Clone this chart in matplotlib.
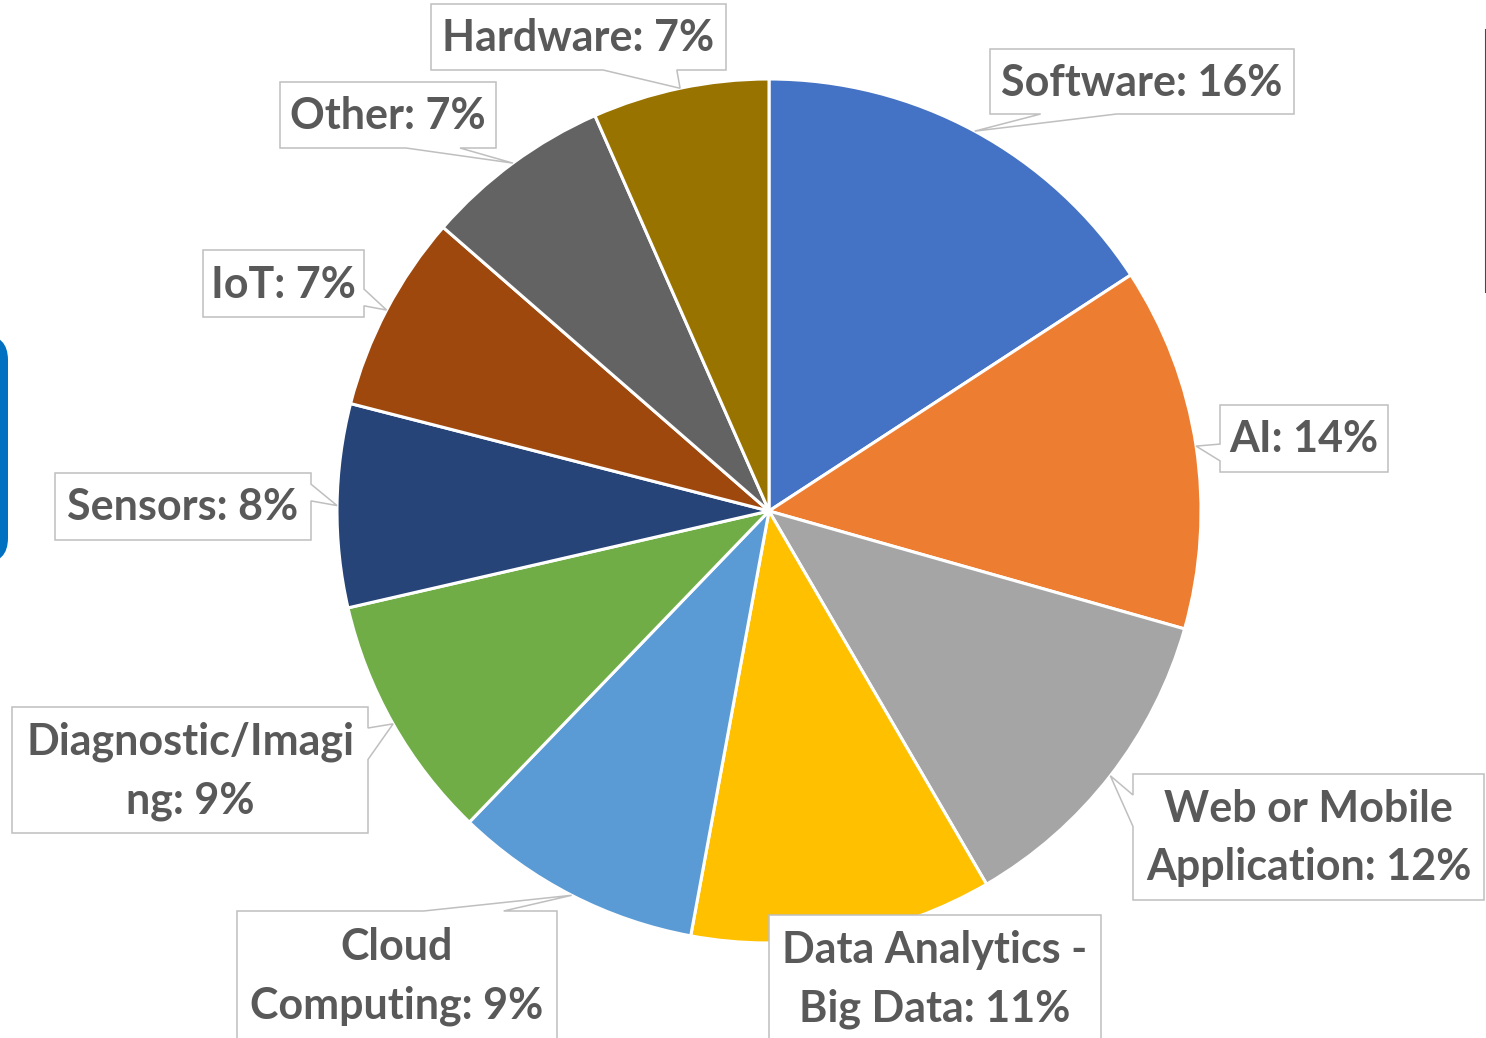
import numpy as np
import matplotlib
matplotlib.use('Agg')
import matplotlib.pyplot as plt
from matplotlib.patches import Polygon, FancyBboxPatch

# slice data (clockwise from 12 o'clock)
categories = ['Software', 'AI', 'Web or Mobile Application', 'Data Analytics - Big Data',
              'Cloud Computing', 'Diagnostic/Imaging', 'Sensors', 'IoT', 'Other', 'Hardware']
values = [15.8, 13.6, 12.2, 11.3, 9.3, 9.2, 7.6, 7.4, 7.0, 6.6]
label_text = ['Software: 16%', 'AI: 14%', 'Web or Mobile\nApplication: 12%',
              'Data Analytics -\nBig Data: 11%', 'Cloud\nComputing: 9%',
              'Diagnostic/Imagi\nng: 9%', 'Sensors: 8%', 'IoT: 7%', 'Other: 7%',
              'Hardware: 7%']
colors = ['#4472C4', '#ED7D31', '#A5A5A5', '#FFC000', '#5B9BD5',
          '#70AD47', '#264478', '#9E480E', '#636363', '#997300']

# label boxes in pixel coords (left, top, right, bottom), y down
boxes = [(990, 49, 1294, 114), (1220, 405, 1388, 472), (1133, 774, 1484, 900),
         (769, 915, 1101, 1042), (237, 911, 557, 1040), (12, 707, 368, 833),
         (55, 473, 311, 540), (203, 250, 364, 317), (280, 82, 496, 148),
         (431, 4, 726, 70)]

W, H = 1486, 1038
cx, cy, R = 769, 511, 432


def Y(y):
    return H - y


def callout(l, t, r, b, ax_, ay_):
    # excel style wedgeRectCallout, pixel coords y down
    w = r - l
    h = b - t
    dxp = ax_ - (l + r) / 2.0
    dyp = ay_ - (t + b) / 2.0
    dz = abs(dyp) - abs(dxp * h / w)
    x1 = l + w * (7 if dxp > 0 else 2) / 12.0
    x2 = l + w * (10 if dxp > 0 else 5) / 12.0
    y1 = t + h * (7 if dyp > 0 else 2) / 12.0
    y2 = t + h * (10 if dyp > 0 else 5) / 12.0
    if dz > 0:
        xl, yl = l, y1
        xr, yr = r, y1
        xt, yt = (x1, t) if dyp > 0 else (ax_, ay_)
        xb, yb = (ax_, ay_) if dyp > 0 else (x1, b)
    else:
        xt, yt = x1, t
        xb, yb = x1, b
        xl, yl = (l, y1) if dxp > 0 else (ax_, ay_)
        xr, yr = (ax_, ay_) if dxp > 0 else (r, y1)
    pts = [(l, t), (x1, t), (xt, yt), (x2, t), (r, t), (r, y1), (xr, yr), (r, y2),
           (r, b), (x2, b), (xb, yb), (x1, b), (l, b), (l, y2), (xl, yl), (l, y1)]
    return [(px, Y(py)) for px, py in pts]


fig = plt.figure(figsize=(W / 100, H / 100), dpi=100)
ax = fig.add_axes([0, 0, 1, 1])

wedges, _ = ax.pie(values, colors=colors, startangle=90, counterclock=False,
                   radius=R, center=(cx, Y(cy)), frame=True,
                   wedgeprops=dict(edgecolor='white', linewidth=2.2))
ax.set_xlim(0, W)
ax.set_ylim(0, H)
ax.set_aspect('equal')
ax.axis('off')

for wd, txt, (l, t, r, b) in zip(wedges, label_text, boxes):
    mid = np.deg2rad((wd.theta1 + wd.theta2) / 2.0)
    ax_ = cx + R * np.cos(mid)
    ay_ = cy - R * np.sin(mid)
    if l < ax_ < r and t < ay_ < b:
        pts = [(l, Y(t)), (r, Y(t)), (r, Y(b)), (l, Y(b))]
    else:
        pts = callout(l, t, r, b, ax_, ay_)
    ax.add_patch(Polygon(pts, closed=True, facecolor='white', edgecolor='#BFBFBF',
                         linewidth=1.1, zorder=3, clip_on=False))
    ax.text((l + r) / 2.0, Y((t + b) / 2.0) - 1, txt, ha='center', va='center',
            fontsize=31, fontweight='bold', family=['Lato', 'DejaVu Sans'],
            color='#595959', linespacing=1.55, zorder=4)

# bits of the slide around the chart
ax.add_patch(FancyBboxPatch((-30, Y(563)), 38, 228, boxstyle='round,pad=0,rounding_size=25',
                            facecolor='#0070C0', edgecolor='none', zorder=1, clip_on=False))
ax.plot([1485.5, 1485.5], [Y(30), Y(292)], color='#2F4A8A', linewidth=1.5, zorder=1)

fig.savefig('out.png', dpi=100, facecolor='white')
